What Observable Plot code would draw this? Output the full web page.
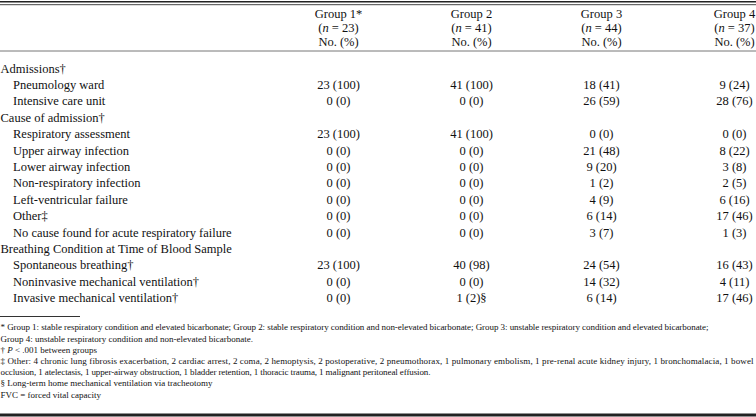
<!DOCTYPE html>
<html>
<head>
<meta charset="utf-8">
<script src="https://cdn.jsdelivr.net/npm/d3@7"></script>
<script src="https://cdn.jsdelivr.net/npm/@observablehq/plot@0.6"></script>
<style>
  html, body { margin: 0; padding: 0; background: #fff; }
</style>
</head>
<body>
<div id="chart"></div>
<script>
// ---- DATA ----
const groupNames = ["Group 1*", "Group 2", "Group 3", "Group 4"];
const groupN = ["(n = 23)", "(n = 41)", "(n = 44)", "(n = 37)"];
const groupUnit = ["No. (%)", "No. (%)", "No. (%)", "No. (%)"];

const rowLabels = [
  "Admissions†",
  "Pneumology ward",
  "Intensive care unit",
  "Cause of admission†",
  "Respiratory assessment",
  "Upper airway infection",
  "Lower airway infection",
  "Non-respiratory infection",
  "Left-ventricular failure",
  "Other‡",
  "No cause found for acute respiratory failure",
  "Breathing Condition at Time of Blood Sample",
  "Spontaneous breathing†",
  "Noninvasive mechanical ventilation†",
  "Invasive mechanical ventilation†"
];
const rowIsSection = [true, false, false, true, false, false, false, false, false, false, false, true, false, false, false];

const group1 = ["", "23 (100)", "0 (0)", "", "23 (100)", "0 (0)", "0 (0)", "0 (0)", "0 (0)", "0 (0)", "0 (0)", "", "23 (100)", "0 (0)", "0 (0)"];
const group2 = ["", "41 (100)", "0 (0)", "", "41 (100)", "0 (0)", "0 (0)", "0 (0)", "0 (0)", "0 (0)", "0 (0)", "", "40 (98)", "0 (0)", "1 (2)§"];
const group3 = ["", "18 (41)", "26 (59)", "", "0 (0)", "21 (48)", "9 (20)", "1 (2)", "4 (9)", "6 (14)", "3 (7)", "", "24 (54)", "14 (32)", "6 (14)"];
const group4 = ["", "9 (24)", "28 (76)", "", "0 (0)", "8 (22)", "3 (8)", "2 (5)", "6 (16)", "17 (46)", "1 (3)", "", "16 (43)", "4 (11)", "17 (46)"];

const footnotes = [
  "* Group 1: stable respiratory condition and elevated bicarbonate; Group 2: stable respiratory condition and non-elevated bicarbonate; Group 3: unstable respiratory condition and elevated bicarbonate;",
  "Group 4: unstable respiratory condition and non-elevated bicarbonate.",
  "† P < .001 between groups",
  "‡ Other: 4 chronic lung fibrosis exacerbation, 2 cardiac arrest, 2 coma, 2 hemoptysis, 2 postoperative, 2 pneumothorax, 1 pulmonary embolism, 1 pre-renal acute kidney injury, 1 bronchomalacia, 1 bowel",
  "occlusion, 1 atelectasis, 1 upper-airway obstruction, 1 bladder retention, 1 thoracic trauma, 1 malignant peritoneal effusion.",
  "§ Long-term home mechanical ventilation via tracheotomy",
  "FVC = forced vital capacity"
];

// ---- LAYOUT ----
const W = 756, H = 417;
const colX = [338, 471, 601, 734];
const indentX = 12.5;
const headerY = [13.5, 27.5, 41.5];
const headerRuleY = 50.5;
const bodyTop = 68, rowStep = 16.4;
const footRuleY = 316, footTop = 327, footStep = 11.2;
const footWidths = [708, 0, 0, 753, 430, 0, 0];
const serif = "'Liberation Serif', 'Times New Roman', serif";

const groupCols = [group1, group2, group3, group4];
const cells = [];
groupCols.forEach((col, c) => col.forEach((v, r) => { if (v) cells.push({c, r, v}); }));
const headers = [];
[groupNames, groupN, groupUnit].forEach((arr, line) => arr.forEach((t, c) => headers.push({c, line, t})));
const rows = rowLabels.map((t, r) => ({t, r, section: rowIsSection[r]}));
const feet = footnotes.map((t, i) => ({t, i}));

const chart = Plot.plot({
  width: W,
  height: H,
  margin: 0,
  x: {type: "linear", domain: [0, W], range: [0, W], axis: null},
  y: {type: "linear", domain: [0, H], range: [0, H], axis: null},
  style: {fontFamily: serif, fontSize: "12.5px", color: "#111", background: "#fff"},
  marks: [
    // top double rule
    Plot.ruleY([1.2], {y: d => d, stroke: "#222", strokeWidth: 1.6}),
    Plot.ruleY([4.2], {y: d => d, stroke: "#444", strokeWidth: 1}),
    // header rule
    Plot.ruleY([headerRuleY], {y: d => d, stroke: "#777", strokeWidth: 1}),
    // column headers
    Plot.text(headers, {x: d => colX[d.c], y: d => headerY[d.line], text: "t", textAnchor: "middle", fill: "#111", fontSize: 12.5}),
    // row labels
    Plot.text(rows, {x: d => d.section ? 0 : indentX, y: d => bodyTop + d.r * rowStep, text: "t", textAnchor: "start", fill: "#111", fontSize: 12.5}),
    // cells
    Plot.text(cells, {x: d => colX[d.c], y: d => bodyTop + d.r * rowStep, text: "v", textAnchor: "middle", fill: "#111", fontSize: 12.5}),
    // footnote short rule
    Plot.ruleY([footRuleY], {y: d => d, x1: () => 0, x2: () => 80, stroke: "#333", strokeWidth: 1}),
    // footnotes
    Plot.text(feet, {x: () => 0, y: d => footTop + d.i * footStep, text: "t", textAnchor: "start", fill: "#111", fontSize: 9}),
    // bottom rule
    Plot.ruleY([414.5], {y: d => d, stroke: "#222", strokeWidth: 3})
  ]
});

chart.querySelectorAll("text").forEach(t => {
  const s = t.textContent;
  const fi = footnotes.indexOf(s);
  if (fi >= 0 && footWidths[fi]) {
    t.setAttribute("textLength", footWidths[fi]);
    t.setAttribute("lengthAdjust", "spacing");
  }
  if (/^\(n = \d+\)$/.test(s)) {
    t.innerHTML = '(<tspan font-style="italic">n</tspan>' + s.slice(2);
  } else if (s.startsWith("† P")) {
    t.innerHTML = '† <tspan font-style="italic">P</tspan>' + s.slice(3);
  }
});

document.getElementById("chart").appendChild(chart);
</script>
</body>
</html>
